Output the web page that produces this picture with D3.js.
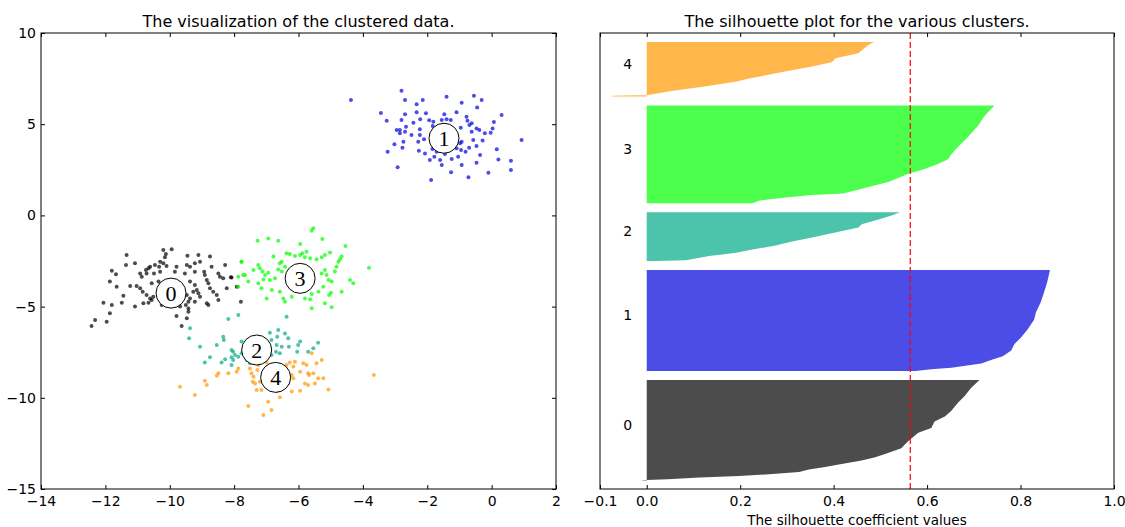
<!DOCTYPE html>
<html>
<head>
<meta charset="utf-8">
<script src="https://cdn.jsdelivr.net/npm/d3@7"></script>
<style>
  html, body { margin: 0; padding: 0; background: #ffffff; }
  svg { display: block; }
  text { font-family: "DejaVu Sans", sans-serif; fill: #000; }
</style>
</head>
<body>
<div id="chart"></div>
<script>
// ---------------- DATA ----------------
const leftTitle = "The visualization of the clustered data.";
const rightTitle = "The silhouette plot for the various clusters.";
const rightXLabel = "The silhouette coefficient values";

const xTicksLeft = [-14, -12, -10, -8, -6, -4, -2, 0, 2];
const yTicksLeft = [-15, -10, -5, 0, 5, 10];
const xTicksRight = [-0.1, 0.0, 0.2, 0.4, 0.6, 0.8, 1.0];

const clusterLabels = [0, 1, 2, 3, 4];
const clusterColors = ["#000000", "#0000dd", "#00aa88", "#00ff00", "#ff9900"];

// cluster centres (feature space)
const centerX = [-9.96, -1.48, -7.30, -5.95, -6.71];
const centerY = [-4.26, 4.23, -7.38, -3.45, -8.88];

// samples per cluster
const cluster0Points = [
  [-10.20,-1.90],[-9.94,-1.86],[-11.34,-2.17],[-10.12,-2.12],[-10.15,-2.30],[-9.45,-2.21],[-9.11,-2.17],[-8.75,-2.26],
  [-11.08,-2.63],[-11.36,-2.72],[-10.30,-2.54],[-10.20,-2.63],[-10.46,-2.72],[-10.33,-2.81],[-10.10,-2.77],[-10.61,-2.81],
  [-10.66,-2.90],[-10.74,-2.99],[-9.47,-2.72],[-9.37,-2.81],[-9.22,-2.63],[-9.06,-2.54],[-9.79,-2.81],[-8.70,-2.81],
  [-8.28,-2.72],[-11.80,-3.03],[-11.67,-3.23],[-10.92,-3.18],[-10.72,-3.18],[-10.87,-3.36],[-10.49,-3.18],[-10.30,-3.09],
  [-9.84,-3.09],[-9.53,-3.18],[-9.22,-3.09],[-8.93,-3.09],[-8.91,-3.27],[-8.49,-3.18],[-8.44,-3.36],[-8.34,-3.45],
  [-8.08,-3.41],[-11.86,-3.63],[-11.23,-3.87],[-11.03,-3.87],[-10.92,-4.00],[-10.56,-3.72],[-10.35,-3.63],[-9.37,-3.63],
  [-9.22,-3.82],[-8.85,-3.54],[-8.80,-3.72],[-8.75,-4.00],[-9.16,-4.09],[-9.11,-4.27],[-9.27,-4.18],[-8.65,-4.18],
  [-8.23,-4.00],[-7.92,-3.91],[-11.65,-3.91],[-11.44,-4.40],[-11.49,-4.79],[-10.84,-4.18],[-10.72,-4.36],[-10.61,-4.55],
  [-10.56,-4.64],[-10.82,-4.82],[-10.66,-4.79],[-10.51,-4.46],[-10.25,-4.36],[-9.47,-4.36],[-9.37,-4.55],[-9.42,-4.73],
  [-9.22,-4.73],[-9.06,-4.46],[-8.85,-4.82],[-8.80,-4.91],[-8.49,-4.64],[-8.54,-4.36],[-12.06,-4.79],[-11.80,-4.91],
  [-11.08,-5.00],[-10.25,-4.91],[-9.68,-5.00],[-9.50,-4.91],[-9.42,-5.10],[-9.42,-5.28],[-9.79,-5.52],[-9.47,-5.64],
  [-11.86,-5.37],[-12.32,-5.74],[-11.96,-5.83],[-12.43,-6.06],[-9.63,-6.06],[-8.10,-3.39],[-7.79,-4.73]
];
const cluster1Points = [
  [-4.37,6.33],[-2.80,6.84],[-2.69,6.33],[-1.40,6.51],[-0.55,6.56],[-0.31,6.33],[-0.93,6.18],[-2.33,6.09],
  [-2.14,6.33],[-3.44,5.61],[-2.69,5.54],[-2.33,5.65],[-2.04,5.60],[-1.47,5.54],[-1.09,5.65],[-0.45,5.91],
  [0.31,5.50],[-3.26,5.19],[-2.80,5.23],[-2.43,5.08],[-2.22,5.27],[-1.94,5.21],[-1.81,5.14],[-1.40,5.27],
  [-1.27,5.23],[-0.78,5.41],[-0.75,5.19],[-0.69,4.96],[0.07,5.12],[-2.95,4.68],[-2.85,4.68],[-2.69,4.59],
  [-2.66,4.86],[-2.23,4.72],[-1.83,4.90],[-1.24,4.77],[-0.96,4.81],[-0.62,4.59],[-0.47,4.77],[-0.38,4.68],
  [-0.21,4.50],[-0.03,4.53],[0.03,4.77],[-2.23,4.41],[-2.10,4.17],[-2.28,4.04],[-1.88,4.41],[-0.98,3.95],
  [-0.93,4.04],[-0.57,4.13],[-0.28,4.10],[0.93,4.13],[-3.02,3.90],[-2.74,4.04],[-2.77,3.71],[-2.26,3.55],
  [-2.07,3.40],[-1.84,3.64],[-1.71,3.49],[-1.78,3.22],[-1.45,3.37],[-1.09,3.68],[-0.95,3.59],[-0.70,3.71],
  [-0.81,3.49],[-0.47,3.80],[-0.36,3.31],[0.16,3.62],[-3.23,3.49],[-1.92,3.04],[-1.60,3.04],[-1.24,3.09],
  [-1.04,3.22],[-1.55,2.76],[-0.47,2.89],[0.21,3.07],[0.60,3.00],[-0.93,2.76],[-2.92,2.64],[-1.26,2.36],
  [-0.72,2.09],[-0.10,2.34],[0.60,2.49],[-1.88,1.94],[-2.85,4.50],[-2.49,4.41],[-1.55,5.23],[-1.14,4.32],
  [-1.45,3.77],[-0.62,5.05]
];
const cluster2Points = [
  [-9.37,-6.19],[-9.40,-6.74],[-8.34,-6.65],[-8.32,-6.83],[-9.06,-7.20],[-8.54,-7.11],[-8.08,-7.38],[-8.03,-7.47],
  [-7.97,-7.65],[-7.77,-6.92],[-6.89,-6.43],[-6.63,-6.28],[-6.42,-6.47],[-6.66,-6.65],[-6.84,-6.83],[-6.68,-7.11],
  [-6.32,-6.74],[-6.52,-7.20],[-6.30,-7.20],[-6.58,-7.56],[-5.95,-6.92],[-6.01,-7.11],[-6.04,-7.47],[-5.70,-7.47],
  [-5.54,-7.29],[-5.39,-6.98],[-8.75,-7.78],[-8.91,-8.07],[-8.39,-8.07],[-8.28,-7.89],[-8.08,-7.78],[-8.03,-7.93],
  [-8.08,-8.20],[-7.87,-7.75],[-7.77,-7.56],[-7.61,-7.93],[-6.84,-7.65],[-6.70,-7.47],[-6.99,-7.56],[-7.51,-8.11],
  [-8.18,-5.68],[-7.87,-5.46],[-6.37,-5.55]
];
const cluster3Points = [
  [-5.54,-0.71],[-5.59,-0.84],[-7.27,-1.39],[-6.94,-1.26],[-6.63,-1.39],[-5.95,-1.57],[-5.26,-1.29],[-4.54,-1.68],
  [-6.37,-2.08],[-6.27,-2.12],[-6.11,-2.23],[-5.95,-2.17],[-5.88,-2.08],[-5.75,-1.99],[-5.80,-2.30],[-5.64,-2.35],
  [-6.78,-2.26],[-6.52,-2.54],[-5.44,-2.41],[-5.28,-2.30],[-5.18,-2.17],[-5.02,-2.04],[-4.76,-2.54],[-4.71,-2.41],
  [-4.66,-2.26],[-7.77,-2.54],[-7.25,-2.72],[-7.20,-2.90],[-7.12,-3.08],[-7.04,-3.27],[-6.94,-3.14],[-7.09,-3.51],
  [-6.89,-3.54],[-6.73,-3.45],[-6.63,-2.96],[-6.52,-3.08],[-6.42,-2.81],[-6.58,-2.63],[-7.40,-2.99],[-7.66,-3.27],
  [-7.87,-3.36],[-7.56,-3.63],[-7.25,-3.72],[-7.15,-4.00],[-6.83,-4.09],[-6.99,-4.55],[-6.58,-4.18],[-6.47,-4.55],
  [-6.42,-4.73],[-6.21,-4.46],[-5.80,-4.55],[-5.64,-4.60],[-5.59,-4.31],[-5.38,-4.18],[-5.18,-2.99],[-5.13,-3.27],
  [-5.07,-3.54],[-4.97,-3.63],[-5.28,-3.18],[-4.87,-3.08],[-4.82,-2.81],[-4.40,-3.54],[-4.30,-3.72],[-5.23,-3.91],
  [-5.05,-4.36],[-4.99,-4.24],[-4.66,-4.18],[-5.59,-5.09],[-5.18,-4.82],[-4.97,-5.04],[-3.81,-2.87],[-7.87,-3.91],
  [-7.77,-2.54],[-7.72,-3.27]
];
const cluster4Points = [
  [-5.59,-7.56],[-5.28,-7.93],[-5.44,-8.11],[-5.85,-8.11],[-5.75,-8.20],[-6.11,-8.02],[-6.27,-8.07],[-6.37,-8.20],
  [-6.16,-8.29],[-6.99,-8.07],[-7.25,-8.20],[-7.51,-8.39],[-7.46,-8.66],[-7.28,-8.48],[-7.87,-8.39],[-7.92,-8.57],
  [-8.18,-8.66],[-8.49,-8.66],[-8.54,-8.79],[-8.91,-9.06],[-8.85,-9.30],[-9.68,-9.39],[-9.22,-9.85],[-7.40,-8.84],
  [-7.42,-9.12],[-7.35,-9.21],[-7.20,-9.12],[-6.99,-9.39],[-7.30,-9.57],[-7.15,-9.57],[-6.89,-9.48],[-6.68,-9.66],
  [-6.47,-9.39],[-6.32,-9.21],[-6.16,-8.93],[-6.21,-8.75],[-5.95,-8.57],[-5.70,-8.66],[-5.67,-8.75],[-5.54,-8.66],
  [-5.39,-8.93],[-5.23,-8.93],[-5.80,-9.21],[-5.70,-9.30],[-5.49,-9.21],[-5.07,-9.54],[-5.95,-9.61],[-6.21,-9.66],
  [-6.58,-9.97],[-6.94,-10.21],[-7.56,-10.45],[-6.84,-10.67],[-7.09,-10.94],[-3.66,-8.75],[-6.42,-8.75]
];

// silhouette profile: cluster sizes and sorted coefficient values at [rank, value]
const clusterSizes = [125, 125, 61, 121, 68];
const silhouette0 = [[0,-0.013],[1,0.0],[2,0.045],[4,0.113],[6,0.198],[8,0.262],[11,0.326],[14,0.347],[17,0.382],[20,0.411],[25,0.46],[29,0.489],[33,0.51],[40,0.545],[45,0.553],[49,0.56],[59,0.581],[65,0.609],[73,0.616],[79,0.638],[86,0.652],[96,0.666],[104,0.68],[114,0.694],[124,0.712]];
const silhouette1 = [[0,0.575],[2,0.609],[4,0.652],[9,0.716],[14,0.74],[18,0.762],[25,0.78],[33,0.787],[41,0.801],[51,0.815],[63,0.829],[72,0.833],[84,0.843],[96,0.85],[109,0.857],[119,0.861],[124,0.863]];
const silhouette2 = [[0,0.02],[1,0.084],[4,0.113],[6,0.134],[10,0.191],[14,0.226],[19,0.276],[24,0.311],[29,0.354],[34,0.396],[41,0.453],[45,0.46],[51,0.496],[56,0.524],[60,0.542]];
const silhouette3 = [[0,0.226],[3,0.24],[7,0.297],[10,0.354],[12,0.42],[16,0.448],[22,0.489],[26,0.517],[36,0.56],[42,0.595],[48,0.623],[54,0.645],[60,0.652],[69,0.666],[81,0.687],[95,0.709],[107,0.723],[120,0.744]];
const silhouette4 = [[0,-0.073],[1,-0.073],[2,0.003],[7,0.056],[12,0.12],[18,0.19],[22,0.219],[30,0.29],[37,0.354],[42,0.396],[47,0.404],[53,0.453],[60,0.467],[64,0.476],[67,0.487]];
const silhouetteAvg = 0.564;

// ---------------- CHART ----------------
const W = 1125, H = 527;
const svg = d3.select("#chart").append("svg").attr("width", W).attr("height", H);
svg.append("rect").attr("width", W).attr("height", H).attr("fill", "#fff");

const L = {x0: 41, x1: 556, y0: 33, y1: 489};
const R = {x0: 600, x1: 1114, y0: 33, y1: 489};

const fmtInt = d3.format("d");
const fmtDec = d3.format(".1f");

// ---- left: scatter ----
const xL = d3.scaleLinear().domain([-14, 2]).range([L.x0, L.x1]);
const yL = d3.scaleLinear().domain([-15, 10]).range([L.y1, L.y0]);

const pointsByCluster = [cluster0Points, cluster1Points, cluster2Points, cluster3Points, cluster4Points];
const gL = svg.append("g");
pointsByCluster.forEach((pts, ci) => {
  gL.append("g").selectAll("circle").data(pts).join("circle")
    .attr("cx", d => xL(d[0])).attr("cy", d => yL(d[1]))
    .attr("r", 2).attr("fill", clusterColors[ci]).attr("fill-opacity", 0.7);
});

const centers = clusterLabels.map((c, i) => ({c, x: centerX[i], y: centerY[i]}));
const cg = gL.append("g").selectAll("g").data(centers).join("g")
  .attr("transform", d => `translate(${xL(d.x)},${yL(d.y)})`);
cg.append("circle").attr("r", 15).attr("fill", "#fff").attr("stroke", "#000").attr("stroke-width", 1);
cg.append("text").text(d => d.c).attr("text-anchor", "middle").attr("dy", "0.35em")
  .style("font-family", "'Liberation Serif', 'DejaVu Serif', serif").style("font-size", "22px");

function frame(box) {
  svg.append("rect").attr("x", box.x0).attr("y", box.y0)
    .attr("width", box.x1 - box.x0).attr("height", box.y1 - box.y0)
    .attr("fill", "none").attr("stroke", "#000").attr("stroke-width", 1);
}

function styleAxis(g, withText) {
  g.select(".domain").remove();
  g.selectAll(".tick line").attr("stroke", "#000");
  if (!withText) g.selectAll(".tick text").remove();
  else g.selectAll(".tick text").style("font-family", "'DejaVu Sans', sans-serif").style("font-size", "14px").attr("fill", "#000");
}

svg.append("g").attr("transform", `translate(0,${L.y1})`)
  .call(d3.axisBottom(xL).tickValues(xTicksLeft).tickFormat(fmtInt).tickSizeInner(-4).tickSizeOuter(0).tickPadding(7))
  .call(g => styleAxis(g, true));
svg.append("g").attr("transform", `translate(0,${L.y0})`)
  .call(d3.axisTop(xL).tickValues(xTicksLeft).tickSizeInner(-4).tickSizeOuter(0))
  .call(g => styleAxis(g, false));
svg.append("g").attr("transform", `translate(${L.x0},0)`)
  .call(d3.axisLeft(yL).tickValues(yTicksLeft).tickFormat(fmtInt).tickSizeInner(-4).tickSizeOuter(0).tickPadding(5))
  .call(g => styleAxis(g, true));
svg.append("g").attr("transform", `translate(${L.x1},0)`)
  .call(d3.axisRight(yL).tickValues(yTicksLeft).tickSizeInner(-4).tickSizeOuter(0))
  .call(g => styleAxis(g, false));
frame(L);

svg.append("text").attr("x", (L.x0 + L.x1) / 2).attr("y", 27).attr("text-anchor", "middle")
  .style("font-size", "16px").text(leftTitle);

// ---- right: silhouette ----
const totalRows = d3.sum(clusterSizes) + (clusterSizes.length + 1) * 10;
const xR = d3.scaleLinear().domain([-0.1, 1.0]).range([R.x0, R.x1]);
const yR = d3.scaleLinear().domain([0, totalRows]).range([R.y1, R.y0]);

const silhouettes = [silhouette0, silhouette1, silhouette2, silhouette3, silhouette4];
let yLower = 10;
const gR = svg.append("g");
silhouettes.forEach((prof, ci) => {
  const base = yLower;
  const area = d3.area()
    .x0(xR(0)).x1(d => xR(d[1]))
    .y(d => yR(base + d[0]));
  gR.append("path").datum(prof).attr("d", area)
    .attr("fill", clusterColors[ci]).attr("fill-opacity", 0.7);
  gR.append("text").attr("x", xR(-0.05)).attr("y", yR(base + 0.5 * clusterSizes[ci]))
    .style("font-size", "14px").text(clusterLabels[ci]);
  yLower = base + clusterSizes[ci] + 10;
});

svg.append("line").attr("x1", xR(silhouetteAvg)).attr("x2", xR(silhouetteAvg))
  .attr("y1", R.y0).attr("y2", R.y1)
  .attr("stroke", "#ff0000").attr("stroke-width", 1.2).attr("stroke-dasharray", "6,3");

svg.append("g").attr("transform", `translate(0,${R.y1})`)
  .call(d3.axisBottom(xR).tickValues(xTicksRight).tickFormat(fmtDec).tickSizeInner(-4).tickSizeOuter(0).tickPadding(7))
  .call(g => styleAxis(g, true));
svg.append("g").attr("transform", `translate(0,${R.y0})`)
  .call(d3.axisTop(xR).tickValues(xTicksRight).tickSizeInner(-4).tickSizeOuter(0))
  .call(g => styleAxis(g, false));
frame(R);

svg.append("text").attr("x", (R.x0 + R.x1) / 2).attr("y", 27).attr("text-anchor", "middle")
  .style("font-size", "16px").text(rightTitle);
svg.append("text").attr("x", (R.x0 + R.x1) / 2).attr("y", 525).attr("text-anchor", "middle")
  .style("font-size", "13.5px").text(rightXLabel);
</script>
</body>
</html>
